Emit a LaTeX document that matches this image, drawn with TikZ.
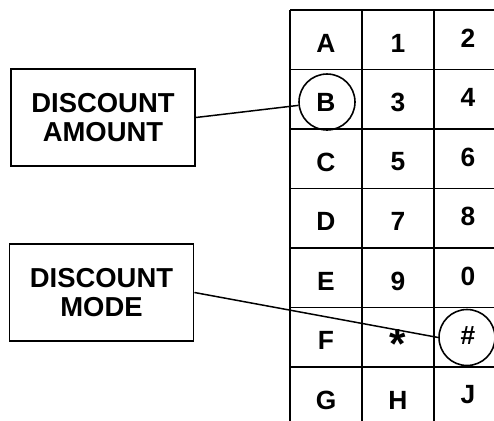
\documentclass[tikz,border=0pt]{standalone}
\usepackage{fontspec}
\setmainfont{Liberation Sans}
\usetikzlibrary{positioning}
\tikzset{
  labelbox/.style={draw, line width=1.1pt, minimum width=3.68cm, minimum height=1.95cm,
    align=center, inner sep=0pt, font=\bfseries\fontsize{15.6}{16.4}\selectfont},
  key/.style={font=\bfseries\fontsize{15}{15}\selectfont, inner sep=0pt},
  ring/.style={draw, circle, line width=0.9pt, minimum size=1.12cm, inner sep=0pt},
  wire/.style={line width=0.85pt},
  gridline/.style={line width=1.1pt}
}
\newcommand{\keystar}{\raisebox{-10.3pt}[0pt][0pt]{\fontsize{24}{24}\selectfont *}}
\begin{document}
\begin{tikzpicture}[x=0.02cm, y=-0.02cm]
\useasboundingbox (0,0) rectangle (494,420);
\clip (0,0) rectangle (494,420);
% keypad
\foreach \c in {290,362,434,502}
  \draw[gridline] (\c,10) -- (\c,430);
\foreach \r in {0,...,7}
  \draw[gridline] (290,10+59.5*\r) -- (502,10+59.5*\r);
\foreach \a/\b/\c [count=\i from 0] in {A/1/2, B/3/4, C/5/6, D/7/8, E/9/0, F/\keystar/\#, G/H/J} {
  \node[key] (k-\i-1) at (326,43+59.5*\i) {\a};
  \node[key] (k-\i-2) at (398,43+59.5*\i) {\b};
  \node[key] (k-\i-3) at (468,38+59.5*\i) {\c};
}
\node[ring] (ringB) at (327,102) {};
\node[ring] (ringH) at (467,337.5) {};
% labels
\node[labelbox] (amount) at (103,117.5) {DISCOUNT\\AMOUNT};
\node[labelbox] (mode) at (101.5,292.5) {DISCOUNT\\MODE};
\draw[wire] (amount.east) -- (ringB);
\draw[wire] (mode.east) -- (ringH.west);
\end{tikzpicture}
\end{document}
